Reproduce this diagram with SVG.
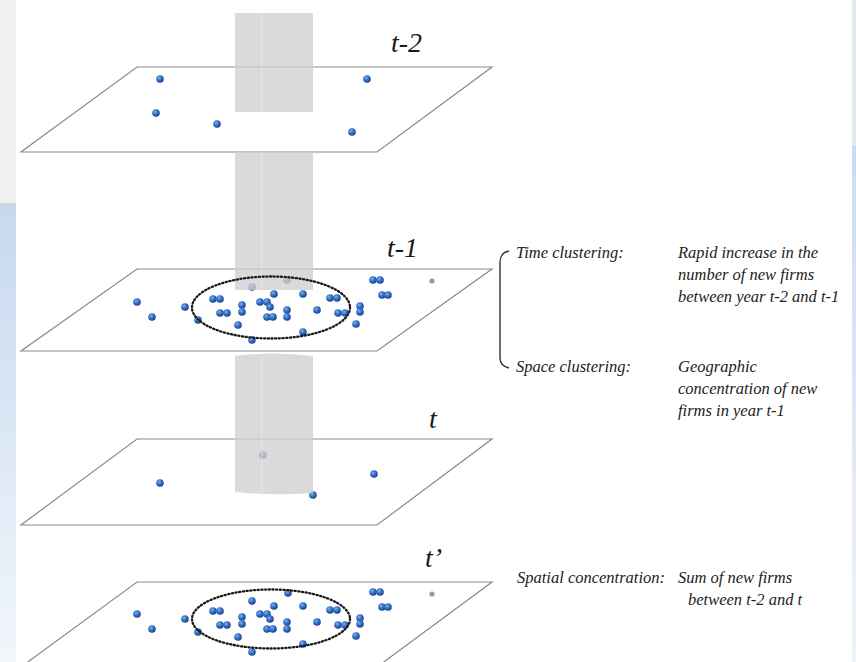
<svg xmlns="http://www.w3.org/2000/svg" xmlns:xlink="http://www.w3.org/1999/xlink" width="856" height="662" viewBox="0 0 856 662">
<style>
.plane{fill:#ffffff;stroke:#8a8a8a;stroke-width:1.2}
.dot{fill:url(#dotg)}
.gdot{fill:#9a9a9a}
.cyl{fill:#cfcfcf;fill-opacity:0.78}
.ring{fill:none;stroke:#1a1a1a;stroke-width:2.3;stroke-dasharray:1.2 2.5;stroke-linecap:round}
.lbl{font-family:"Liberation Serif","Times New Roman",serif;font-style:italic;fill:#1a1a1a}
.big{font-size:28px}
.txt{font-size:16.5px;fill:#222222}
</style>
<defs>
<radialGradient id="dotg" cx="0.38" cy="0.35" r="0.7">
<stop offset="0" stop-color="#7fb0ee"/>
<stop offset="0.5" stop-color="#2f6cc4"/>
<stop offset="1" stop-color="#173f86"/>
</radialGradient>
<linearGradient id="lbg" x1="0" y1="0" x2="0" y2="1">
<stop offset="0" stop-color="#c6d8ef"/>
<stop offset="1" stop-color="#f2f6fb"/>
</linearGradient>
<linearGradient id="rbg" x1="0" y1="0" x2="0" y2="1">
<stop offset="0" stop-color="#cbdcf0"/>
<stop offset="1" stop-color="#eef3fa"/>
</linearGradient>
</defs>
<rect x="0" y="0" width="856" height="662" fill="#ffffff"/>
<g id="background">
<rect x="0" y="0" width="16" height="203" fill="#f0f0f0"/>
<rect x="0" y="203" width="16" height="3" fill="#d4d4d4"/>
<rect x="0" y="206" width="16" height="456" fill="url(#lbg)"/>
<rect x="852" y="0" width="4" height="145" fill="#e4eaf2"/>
<rect x="852" y="145" width="4" height="517" fill="url(#rbg)"/>
</g>
<g id="plane-t-2">
<polygon class="plane" points="137,67 492,67 377,152 21,152"/>
<circle class="dot" cx="160" cy="79" r="3.8"/>
<circle class="dot" cx="367" cy="79" r="3.8"/>
<circle class="dot" cx="156" cy="113" r="3.8"/>
<circle class="dot" cx="217" cy="124" r="3.8"/>
<circle class="dot" cx="352" cy="132" r="3.8"/>
</g>
<g id="plane-t-1">
<polygon class="plane" points="137,269 492,269 377,351 21,351"/>
<circle class="dot" cx="137" cy="302" r="3.8"/>
<circle class="dot" cx="152" cy="317" r="3.8"/>
<circle class="dot" cx="185" cy="307" r="3.8"/>
<circle class="dot" cx="198" cy="320" r="3.8"/>
<circle class="dot" cx="213" cy="299" r="3.8"/>
<circle class="dot" cx="220" cy="299" r="3.8"/>
<circle class="dot" cx="220" cy="313" r="3.8"/>
<circle class="dot" cx="227" cy="313" r="3.8"/>
<circle class="dot" cx="238" cy="325" r="3.8"/>
<circle class="dot" cx="242" cy="305" r="3.8"/>
<circle class="dot" cx="242" cy="312" r="3.8"/>
<circle class="dot" cx="252" cy="287" r="3.8"/>
<circle class="dot" cx="252" cy="340" r="3.8"/>
<circle class="dot" cx="260" cy="302" r="3.8"/>
<circle class="dot" cx="267" cy="302" r="3.8"/>
<circle class="dot" cx="270" cy="307" r="3.8"/>
<circle class="dot" cx="267" cy="317" r="3.8"/>
<circle class="dot" cx="273" cy="317" r="3.8"/>
<circle class="dot" cx="274" cy="294" r="3.8"/>
<circle class="dot" cx="287" cy="280" r="3.8"/>
<circle class="dot" cx="287" cy="310" r="3.8"/>
<circle class="dot" cx="287" cy="317" r="3.8"/>
<circle class="dot" cx="303" cy="294" r="3.8"/>
<circle class="dot" cx="303" cy="332" r="3.8"/>
<circle class="dot" cx="317" cy="310" r="3.8"/>
<circle class="dot" cx="330" cy="298" r="3.8"/>
<circle class="dot" cx="337" cy="298" r="3.8"/>
<circle class="dot" cx="338" cy="313" r="3.8"/>
<circle class="dot" cx="345" cy="313" r="3.8"/>
<circle class="dot" cx="360" cy="306" r="3.8"/>
<circle class="dot" cx="360" cy="312" r="3.8"/>
<circle class="dot" cx="356" cy="324" r="3.8"/>
<circle class="dot" cx="373" cy="280" r="3.8"/>
<circle class="dot" cx="380" cy="280" r="3.8"/>
<circle class="dot" cx="382" cy="295" r="3.8"/>
<circle class="dot" cx="388" cy="295" r="3.8"/>
<circle class="gdot" cx="432" cy="281" r="2.6"/>
</g>
<g id="plane-t">
<polygon class="plane" points="137,439 492,439 377,525 21,525"/>
<circle class="dot" cx="160" cy="483" r="3.8"/>
<circle class="dot" cx="263" cy="455" r="3.8"/>
<circle class="dot" cx="374" cy="474" r="3.8"/>
<circle class="dot" cx="313" cy="495" r="3.8"/>
</g>
<g id="plane-t-prime">
<polygon class="plane" points="137,582 492,582 377,667 21,667"/>
<g transform="translate(0,312)">
<circle class="dot" cx="137" cy="302" r="3.8"/>
<circle class="dot" cx="152" cy="317" r="3.8"/>
<circle class="dot" cx="185" cy="307" r="3.8"/>
<circle class="dot" cx="198" cy="320" r="3.8"/>
<circle class="dot" cx="213" cy="299" r="3.8"/>
<circle class="dot" cx="220" cy="299" r="3.8"/>
<circle class="dot" cx="220" cy="313" r="3.8"/>
<circle class="dot" cx="227" cy="313" r="3.8"/>
<circle class="dot" cx="238" cy="325" r="3.8"/>
<circle class="dot" cx="242" cy="305" r="3.8"/>
<circle class="dot" cx="242" cy="312" r="3.8"/>
<circle class="dot" cx="252" cy="289" r="3.8"/>
<circle class="dot" cx="252" cy="340" r="3.8"/>
<circle class="dot" cx="260" cy="302" r="3.8"/>
<circle class="dot" cx="267" cy="302" r="3.8"/>
<circle class="dot" cx="270" cy="307" r="3.8"/>
<circle class="dot" cx="267" cy="317" r="3.8"/>
<circle class="dot" cx="273" cy="317" r="3.8"/>
<circle class="dot" cx="274" cy="294" r="3.8"/>
<circle class="dot" cx="288" cy="281" r="3.8"/>
<circle class="dot" cx="287" cy="310" r="3.8"/>
<circle class="dot" cx="287" cy="317" r="3.8"/>
<circle class="dot" cx="303" cy="294" r="3.8"/>
<circle class="dot" cx="303" cy="332" r="3.8"/>
<circle class="dot" cx="317" cy="310" r="3.8"/>
<circle class="dot" cx="330" cy="298" r="3.8"/>
<circle class="dot" cx="337" cy="298" r="3.8"/>
<circle class="dot" cx="338" cy="313" r="3.8"/>
<circle class="dot" cx="345" cy="313" r="3.8"/>
<circle class="dot" cx="360" cy="306" r="3.8"/>
<circle class="dot" cx="360" cy="312" r="3.8"/>
<circle class="dot" cx="356" cy="324" r="3.8"/>
<circle class="dot" cx="373" cy="280" r="3.8"/>
<circle class="dot" cx="380" cy="280" r="3.8"/>
<circle class="dot" cx="382" cy="295" r="3.8"/>
<circle class="dot" cx="388" cy="295" r="3.8"/>
<circle class="gdot" cx="432" cy="282" r="2.6"/>
</g>
</g>
<g id="cylinder">
<rect class="cyl" x="235" y="13" width="78" height="99"/>
<rect class="cyl" x="235" y="152" width="78" height="138"/>
<path class="cyl" d="M235,356 Q274,351 313,356 L313,493 Q274,496 235,492 Z"/>
<g stroke="#ffffff" stroke-opacity="0.35" stroke-width="1">
<line x1="262" y1="13" x2="262" y2="112"/>
<line x1="262" y1="152" x2="262" y2="290"/>
<line x1="262" y1="355" x2="262" y2="493"/>
</g>
</g>
<g id="clusters">
<ellipse class="ring" cx="271" cy="307.5" rx="79" ry="31"/>
<ellipse class="ring" cx="271" cy="619" rx="79" ry="29.5"/>
</g>
<g id="labels" class="lbl">
<text class="big" x="391" y="52">t-2</text>
<text class="big" x="387" y="257">t-1</text>
<text class="big" x="429" y="428">t</text>
<text class="big" x="425" y="567">t’</text>
</g>
<g id="connectors">
<path d="M509,251 Q500,253 500,262 L500,358 Q500,366 509,368" fill="none" stroke="#333" stroke-width="1.4"/>
</g>
<g id="annotations" class="lbl txt">
<text x="516" y="258">Time clustering:</text>
<text x="678" y="258">Rapid increase in the</text>
<text x="678" y="280">number of new firms</text>
<text x="678" y="302">between year t-2 and t-1</text>
<text x="516" y="372">Space clustering:</text>
<text x="678" y="372">Geographic</text>
<text x="678" y="394">concentration of new</text>
<text x="678" y="416">firms in year t-1</text>
<text x="517" y="583">Spatial concentration:</text>
<text x="678" y="583">Sum of new firms</text>
<text x="688" y="605">between t-2 and t</text>
</g>
</svg>
